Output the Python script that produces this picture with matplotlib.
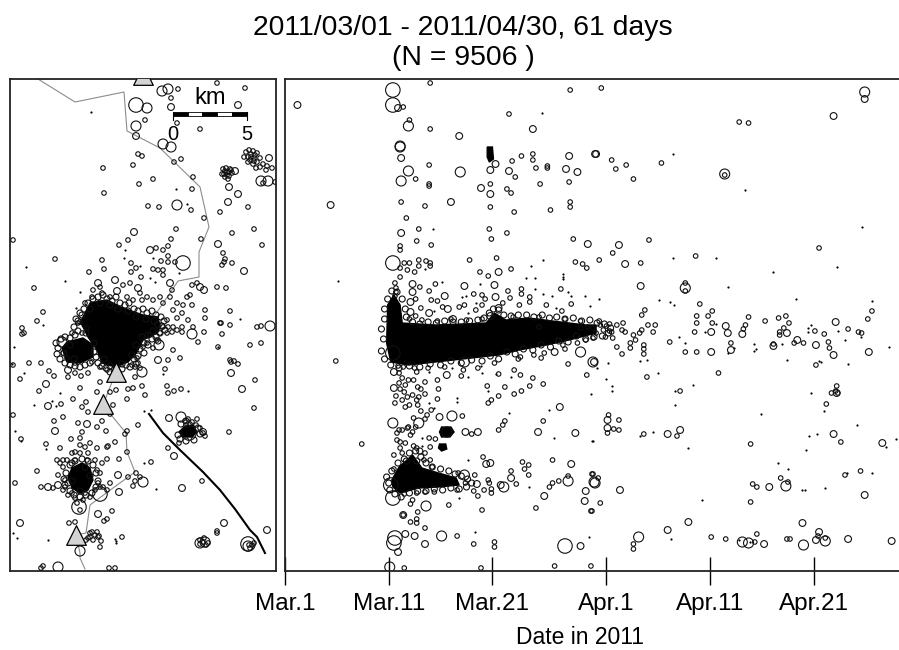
import matplotlib
matplotlib.use('Agg')
import matplotlib.pyplot as plt

plt.rcParams['font.family'] = ['Liberation Sans', 'DejaVu Sans']

# Positions. East/north are in map units, 14.8 units = 1 km.
# Right panel x is days after Mar.1, y is the same north value as the map.
# Where the events saturate to solid black, the core is a filled outline
# instead of thousands of hand-read circles.
UNITS_PER_KM = 14.8

station_line = [(28, 492), (65, 469), (114, 479), (117, 440), (150, 423), (190, 384), (199, 344), (189, 319),
                (189, 294), (168, 290), (160, 278), (106, 199), (93, 166), (116, 138), (117, 119), (125, 99),
                (103, 83), (80, 66), (76, 38), (66, 36), (70, 18), (70, 13), (75, 2)]
stations = [(133, 496), (106, 199), (93, 167), (66, 36)]
fault_line = [(139, 157), (153, 138), (170, 121), (193, 99), (210, 81), (225, 62), (240, 41), (247, 34), (255, 18)]

map_cores = [
    [(70, 248), (80, 268), (97, 271), (113, 263), (133, 256), (148, 254), (150, 244), (147, 238), (133, 231),
     (127, 219), (118, 209), (105, 204), (92, 208), (87, 221), (78, 234), (72, 246)],
    [(52, 223), (57, 229), (73, 233), (83, 226), (83, 214), (70, 208), (57, 209)],
    [(58, 94), (62, 103), (72, 108), (80, 103), (83, 91), (78, 81), (70, 78), (62, 83)],
    [(169, 139), (175, 145), (183, 146), (187, 139), (182, 134), (173, 134)],
]
time_cores = [
    [(9.9, 266), (10.5, 276), (11.1, 266), (11.3, 248), (14.5, 246), (19.4, 248), (20.2, 258), (21.3, 251),
     (23.5, 253), (25.8, 250), (29, 246), (30, 246), (30, 238), (27.4, 231), (25.2, 226), (22.6, 221),
     (20.6, 216), (18, 213), (14.5, 209), (11.9, 206), (10.2, 209), (9.8, 228)],
    [(10.3, 91), (11, 104), (12.3, 116), (13.2, 103), (14.8, 98), (16.5, 93), (16.8, 86), (14.8, 84),
     (12.9, 83), (11.1, 78), (10.4, 84)],
    [(15.1, 144), (16, 144), (16.3, 139), (15.9, 134), (15.1, 134), (14.9, 139)],
    [(14.9, 127), (15.5, 127), (15.6, 122), (15.1, 120), (14.8, 123)],
    [(19.5, 424), (20, 424), (20.1, 412), (19.7, 409), (19.5, 414)],
]

map_tiny = [(81, 459), (166, 382), (16, 304), (55, 290), (177, 367), (70, 279), (66, 263), (230, 252), (115, 321),
            (143, 313), (114, 313), (130, 305), (169, 298), (140, 293), (145, 289), (33, 246), (2, 207), (14, 198),
            (4, 224), (50, 178), (42, 170), (46, 165), (24, 166), (5, 140), (11, 130), (36, 122), (134, 160),
            (141, 161), (153, 197), (178, 180), (208, 224), (106, 30), (106, 28), (3, 38), (7, 33), (38, 31),
            (105, 32), (134, 108), (146, 82)]
map_small = [(207, 488), (235, 483), (168, 482), (161, 473), (135, 451), (190, 442), (167, 448), (128, 417), (132, 415),
             (171, 412), (164, 409), (123, 406), (93, 403), (143, 392), (129, 387), (183, 394), (182, 382), (94, 378),
             (138, 365), (149, 364), (181, 361), (194, 353), (210, 359), (238, 364), (244, 342), (222, 338), (252, 326),
             (191, 332), (166, 342), (3, 331), (118, 331), (161, 332), (158, 325), (109, 326), (146, 323), (153, 321),
             (158, 315), (213, 318), (222, 308), (45, 312), (92, 311), (121, 308), (126, 303), (121, 299), (94, 302),
             (79, 299), (151, 310), (158, 309), (165, 309), (143, 302), (148, 301), (153, 301), (153, 296), (131, 294),
             (24, 283), (216, 283), (207, 284), (33, 259), (27, 250), (195, 261), (195, 253), (220, 260), (220, 246),
             (210, 248), (247, 244), (251, 245), (214, 309), (212, 306), (215, 312),
             (236, 419), (239, 421), (243, 420), (247, 418), (250, 413), (247, 409), (243, 407), (238, 409), (234, 414),
             (241, 414), (244, 413), (238, 414), (241, 417), (244, 410), (240, 411), (253, 407), (257, 405), (250, 404),
             (246, 403), (256, 401), (245, 416), (213, 402), (216, 403), (220, 402), (222, 398), (219, 395), (215, 394),
             (212, 397), (217, 399), (215, 400), (219, 399), (217, 396), (214, 397), (221, 401), (218, 392),
             (262, 403), (253, 388), (265, 389), (12, 243), (14, 238), (12, 237), (19, 208), (31, 208), (3, 206), (39, 200),
             (10, 192), (44, 195), (29, 180), (51, 167), (3, 156), (44, 150), (53, 154), (11, 132), (36, 127), (27, 100),
             (5, 88), (31, 84), (48, 96), (65, 198), (71, 195), (78, 198), (58, 194), (70, 183), (63, 172), (76, 169),
             (72, 164), (78, 159), (68, 148), (87, 144), (96, 140), (92, 150), (100, 157), (103, 166), (117, 172), (132, 185),
             (118, 182), (123, 183), (106, 181), (100, 179), (87, 179), (90, 189), (125, 194), (130, 203), (125, 204),
             (135, 176), (157, 185), (158, 178), (164, 180), (171, 182), (155, 202), (158, 211), (170, 213), (163, 221),
             (188, 229), (194, 239), (211, 248), (212, 237), (208, 224), (240, 226), (251, 228), (245, 191), (244, 163),
             (219, 139), (221, 209), (228, 207), (220, 211), (224, 210), (187, 152), (195, 135), (169, 128), (158, 123),
             (192, 90), (141, 109), (128, 146), (117, 140), (115, 137), (117, 119), (109, 112), (105, 129), (98, 125),
             (97, 112), (118, 94), (126, 98), (130, 94), (125, 90), (123, 85), (102, 60), (97, 52), (94, 50), (65, 49),
             (59, 48), (91, 30), (90, 24), (112, 34), (99, 3), (105, 3), (33, 5), (31, 3), (207, 38), (207, 40),
             (47, 111), (53, 111), (50, 123), (50, 108), (61, 132), (70, 133), (72, 139), (80, 128), (87, 123), (97, 124),
             (43, 83), (53, 81), (58, 76), (65, 73), (73, 71), (80, 74), (85, 81), (88, 88), (93, 84), (97, 81), (100, 88),
             (90, 98), (53, 104), (57, 111), (62, 118), (70, 118), (78, 118), (85, 111), (92, 108), (65, 111), (77, 111),
             (70, 126), (65, 119), (75, 124), (87, 101), (55, 91), (55, 84), (90, 84), (75, 78), (62, 78), (67, 68), (70, 61),
             (80, 38), (85, 36), (88, 34), (78, 33), (83, 31), (87, 39), (80, 34), (76, 31), (82, 39), (89, 35),
             (68, 248), (77, 243), (72, 238), (150, 238), (140, 236), (133, 224), (137, 228), (127, 213), (128, 208),
             (122, 206), (162, 239), (167, 241), (172, 239), (157, 238), (147, 231), (143, 223), (163, 244), (153, 244),
             (62, 238), (53, 218), (57, 213), (65, 208), (82, 209), (90, 204), (97, 201),
             (90, 284), (83, 281), (92, 278), (113, 286), (120, 288), (130, 278), (117, 274), (123, 271), (132, 271),
             (137, 274), (143, 271), (150, 274), (162, 281), (160, 274), (153, 268), (167, 268), (177, 274), (180, 276),
             (182, 266), (173, 266), (172, 258), (187, 288), (182, 286), (163, 261), (157, 251), (167, 253), (178, 251),
             (183, 244), (172, 244), (158, 244), (70, 249), (82, 274), (75, 268), (100, 274),
             (190, 31), (193, 29), (196, 26), (190, 27), (194, 33), (239, 26), (242, 26), (244, 28), (240, 23), (175, 150),
             (178, 152), (182, 149), (180, 147), (176, 146), (186, 146), (190, 143), (193, 138), (198, 28)]
map_edge = [(66, 252), (70, 258), (74, 262), (78, 268), (83, 272), (88, 274), (93, 276), (97, 272), (102, 270), (106, 274),
            (110, 268), (115, 266), (119, 268), (124, 262), (128, 260), (133, 262), (137, 258), (142, 260), (146, 256),
            (151, 254), (154, 250), (152, 245), (155, 241), (150, 238), (146, 234), (148, 230), (142, 232), (138, 226),
            (134, 228), (130, 222), (134, 218), (128, 215), (124, 212), (126, 207), (120, 204), (116, 206), (112, 202),
            (108, 199), (104, 201), (100, 199), (96, 203), (92, 205), (88, 208), (86, 214), (84, 219), (80, 208), (75, 206),
            (70, 204), (65, 205), (60, 206), (55, 208), (50, 212), (47, 217), (48, 223), (46, 228), (51, 232), (55, 234),
            (60, 233), (65, 236), (68, 240), (64, 244), (68, 250), (72, 256), (80, 262), (90, 268), (100, 266), (108, 262),
            (118, 260), (126, 254), (136, 252), (144, 250), (148, 246), (143, 240), (138, 236), (132, 234), (126, 226),
            (122, 216), (112, 207), (100, 205), (94, 212), (84, 228), (76, 238), (60, 226), (64, 212), (54, 218),
            (54, 92), (56, 98), (60, 106), (65, 110), (72, 112), (78, 110), (83, 106), (86, 98), (88, 90), (86, 84), (82, 78),
            (76, 76), (70, 74), (64, 76), (60, 80), (55, 86), (58, 88), (62, 108), (75, 104), (80, 95), (70, 80), (62, 90),
            (168, 136), (171, 147), (176, 150), (188, 143), (190, 137), (184, 131), (176, 130), (170, 132)]
map_med = [(228, 466), (161, 464), (219, 384), (228, 377), (218, 369), (208, 327), (126, 435), (234, 300), (140, 321),
           (124, 339), (259, 413), (225, 400), (109, 79), (88, 57), (172, 83), (159, 153), (164, 115), (193, 139),
           (38, 84), (48, 86), (232, 182), (148, 211), (58, 201), (38, 165), (45, 140), (77, 147), (221, 198),
           (257, 41), (214, 48), (10, 48), (36, 187), (108, 96), (88, 288), (105, 291), (107, 280), (128, 283),
           (160, 288), (190, 284), (194, 281)]
map_large = [(152, 480), (158, 482), (137, 463), (126, 445), (153, 427), (161, 424), (167, 366), (251, 390), (258, 390),
             (260, 245), (182, 237), (70, 20), (48, 4), (133, 89), (149, 226), (52, 229), (132, 199), (190, 28),
             (195, 29), (171, 154), (238, 25)]
map_huge = [(126, 466), (173, 308), (90, 77), (69, 64), (179, 138), (238, 27)]

time_tiny = [(5.1, 290), (24.8, 458), (14.3, 342), (24.9, 311), (23.7, 305), (26.8, 297), (26.8, 294), (26.8, 292),
             (23.2, 293), (24.1, 293), (15.1, 289), (13.5, 302), (24.1, 282), (18.8, 287), (24.9, 277), (25.7, 275),
             (27.3, 279), (27.6, 275), (28.9, 275), (29.4, 265), (26.1, 263), (17.6, 258), (17.1, 274), (17.5, 275),
             (18.4, 268), (14.4, 260), (37.4, 417), (44.4, 381), (55.6, 344), (37.4, 313), (41.6, 313), (47.1, 299),
             (53.2, 304), (42.7, 284), (30.3, 272), (36.1, 271), (37.5, 266), (37.1, 269), (49.3, 272), (56.6, 270),
             (41.6, 247), (40.5, 239), (45.2, 227), (45.2, 220), (45.4, 222), (42.7, 218), (43.3, 223), (48.4, 211),
             (47.9, 227), (50.4, 243), (50.7, 246), (50.4, 239), (53.3, 240), (54, 231), (55.5, 234), (58.2, 224),
             (54.3, 207), (51.5, 210), (51.7, 209), (50.7, 178), (52, 160), (45.9, 157), (55.2, 146), (51.3, 137),
             (50.5, 135), (58.9, 132), (58, 124), (50.2, 121), (38.9, 123), (35.5, 139), (34.2, 135), (47.5, 108),
             (48.5, 102), (52.1, 83), (56.6, 98), (54.2, 98), (49.9, 81), (50.1, 81), (40.2, 71), (37.2, 32),
             (43.8, 31), (44.8, 29), (29.6, 130), (31.5, 180), (31.5, 185), (31, 192), (36, 198), (39.3, 186),
             (37.6, 166), (37.6, 180), (34.2, 210), (34.9, 211), (31.1, 208), (30.1, 203), (38.6, 228), (38, 234),
             (13.9, 199), (16.1, 203), (19, 198), (18.9, 205), (17.6, 194), (21.8, 194), (16.6, 173), (16.6, 169),
             (13.9, 168), (14.4, 163), (21.6, 158), (25.5, 161), (25.9, 133), (29.7, 130), (17.6, 111), (29.5, 177),
             (16.8, 73), (18.3, 39), (29.3, 34), (23.5, 84), (13.2, 125), (13.2, 133), (20.3, 197), (19.6, 180)]
time_small = [(14, 488), (27.5, 481), (21.6, 457), (14, 442), (11.4, 464), (12, 451), (13.9, 406), (12.6, 392), (13.9, 387),
              (13.9, 385), (22.8, 415), (23.9, 417), (23.9, 411), (24.2, 403), (25.3, 405), (25.3, 403), (21.9, 410),
              (22.2, 394), (19.8, 387), (24.6, 387), (27.4, 389), (21.4, 382), (21.8, 378), (11.2, 369), (13.5, 365),
              (27.5, 369), (27.5, 364), (19.8, 364), (22.1, 359), (25.6, 361), (11.7, 353), (12.9, 342), (12.7, 330),
              (14.1, 326), (19.7, 342), (21.4, 338), (19.9, 332), (27.8, 332), (11.1, 321), (11.1, 325), (17.8, 311),
              (20.4, 313), (18.8, 299), (19.6, 295), (21.8, 302), (28, 309), (28.7, 307), (29.1, 303), (12.9, 311),
              (12.9, 305), (13.6, 310), (14, 308), (14, 305), (11.5, 308), (12, 308), (11.1, 303), (11.8, 301),
              (12.5, 299), (11.1, 294), (14.5, 287), (13.9, 280), (13, 284), (26.6, 282), (21.5, 280), (22.8, 282),
              (22.8, 277), (14.1, 271), (14.7, 270), (15.2, 264), (16.8, 264), (17.3, 266), (18.4, 261), (26.7, 260),
              (27.6, 267), (21, 268), (21.7, 273), (23.6, 274), (23.6, 269), (22.6, 266), (25.2, 266),
              (10.6, 288), (10.7, 283), (10.7, 279), (10.6, 275), (12.6, 272), (13.1, 263), (19, 276), (19, 266),
              (19.3, 272), (18.2, 277), (30.5, 483), (43.8, 449), (44.7, 448), (31.5, 411), (31.9, 402), (32.9, 406),
              (33.6, 392), (36.3, 408), (42.4, 396), (35.1, 331), (31.6, 318), (30.3, 311), (34.3, 308), (39.6, 315),
              (51.5, 323), (38.6, 288), (38.6, 280), (40, 267), (34.7, 261), (34.4, 256), (41.2, 260), (40.8, 255),
              (39.7, 255), (44.7, 254), (47.6, 253), (48.3, 255), (46.3, 250), (56.6, 260), (56.2, 252),
              (41.2, 248), (39.7, 248), (44.4, 246), (44.2, 242), (39.5, 239), (48.6, 248), (48.1, 243), (47.7, 239),
              (47.7, 236), (51.1, 240), (52, 237), (54.3, 242), (55.3, 239), (55.6, 238), (52.4, 229), (52.5, 223),
              (49.1, 228), (50, 228), (47.1, 227), (39.7, 219), (38.6, 219), (43, 228), (51.2, 206), (41.8, 198),
              (37.1, 229), (34.6, 226), (34.6, 222), (34.6, 217), (34.9, 194), (53.2, 185), (53.1, 180), (52.7, 178),
              (53.3, 178), (52.2, 167), (38.1, 180), (31.2, 156), (31.1, 138), (32.2, 151), (32.2, 141), (31.7, 142),
              (34.6, 137), (37.8, 135), (44.9, 127), (53.6, 129), (55.5, 100), (54, 96), (47.8, 93), (45.1, 87),
              (45.5, 84), (48.5, 89), (44.9, 69), (30.4, 68), (29.5, 60), (29.6, 97), (30.2, 93), (33.6, 27), (33.6, 22),
              (41.1, 34), (42.5, 32), (45.3, 29), (45.5, 37), (48.4, 32), (48.7, 32), (51.4, 35), (52.1, 33),
              (29.7, 233), (30, 238), (30.9, 234), (31.6, 233), (32, 224), (32.5, 217), (33.3, 223), (33.3, 228),
              (33.8, 231), (34.2, 238), (35, 246), (35.7, 246), (35.5, 239), (32.5, 241), (32.8, 239), (31.5, 239),
              (30.4, 246), (29.7, 243), (30.7, 241), (31.3, 247), (32, 246), (32.6, 248), (33.6, 236), (34.4, 241),
              (4.9, 210), (7.4, 127), (11.4, 56), (16.6, 35), (11.5, 3), (18.9, 3), (26, 5), (29.5, 5), (20.2, 29),
              (20.2, 24), (18.2, 27), (13.5, 43), (12.7, 52), (12.7, 48), (12.1, 49), (12.8, 59), (15.8, 66), (19, 61),
              (24.2, 63), (29.6, 60), (12.3, 71), (12.1, 67), (20.6, 197), (17, 195), (14.7, 191), (14.8, 182),
              (14.7, 172), (19.5, 185), (21.2, 184), (23.6, 185), (22.1, 177), (22.8, 180), (20.6, 175), (19.9, 171),
              (19.6, 168), (22.7, 196), (22.1, 201), (23.9, 193), (24.9, 187), (29.1, 196), (17.1, 155), (21.2, 150),
              (21, 146), (24.9, 150), (20.6, 141), (18, 137), (14.5, 132), (13.9, 133), (19.1, 114), (22.9, 109),
              (23.5, 106), (23.1, 102), (23.5, 96), (25.8, 111), (21.8, 100), (22.3, 87), (26.4, 90), (25.8, 88),
              (25.5, 84), (27.3, 95), (29.7, 97), (18.3, 96), (19.6, 91), (19.9, 82), (19.9, 78), (19.2, 81), (18.6, 75),
              (18.2, 80), (14.4, 79), (16.6, 81), (13.5, 79), (12.7, 78), (11.5, 77), (19.7, 88), (17.4, 88), (16.7, 98),
              (11, 198), (11.9, 191), (12.7, 199), (11.1, 182), (10.7, 175), (10.6, 168), (11.3, 171), (11.6, 164),
              (12, 166), (13.1, 182), (13.5, 177), (12.7, 171), (13.1, 160), (12.3, 176), (11.6, 186), (11, 141),
              (11.1, 129), (11.8, 143), (12.4, 153), (12.3, 139), (10.5, 116), (11.1, 123), (11.6, 128), (12.4, 125),
              (13.7, 156), (13.5, 152), (14.1, 161), (14, 124), (13.5, 118), (14, 111), (14.2, 104), (12.7, 123),
              (11.3, 118), (13.4, 111), (10.5, 102), (10.8, 138), (10.8, 131), (11.3, 141), (11.9, 144), (12.1, 136),
              (12.6, 144), (12.8, 184), (12.9, 174), (11.3, 193), (11, 188), (12.4, 191), (13.5, 189), (11.5, 179),
              (11.8, 174), (12.8, 166), (27.3, 207), (24.7, 213), (24, 216), (22.7, 214), (28.5, 243), (26.3, 231),
              (26.8, 226), (29.2, 244), (24.5, 244), (10.9, 205), (11.4, 204), (12.5, 203), (13.8, 203), (15.4, 204),
              (17.2, 201), (18.6, 203), (20.2, 208), (22.5, 212), (25, 218), (27, 222), (28.2, 228), (29, 231),
              (12, 252), (12.6, 255), (13.2, 251), (14.7, 250), (16, 252), (17.5, 251), (19, 252), (22, 254), (24.5, 254),
              (27, 252), (28.5, 250), (30.3, 250), (31, 245), (31.3, 240)]
time_edge = [(9.6, 262), (9.9, 272), (10.3, 280), (10.8, 279), (11.3, 272), (11.6, 262), (11.7, 254), (12.3, 249), (13, 247),
             (13.8, 249), (14.6, 248), (15.4, 250), (16.2, 249), (17, 249), (17.8, 250), (18.6, 251), (19.2, 253), (19.7, 258),
             (20.1, 262), (20.6, 261), (21.1, 256), (21.8, 255), (22.5, 256), (23.3, 256), (24, 254), (24.8, 256), (25.5, 253),
             (26.2, 254), (27, 252), (27.8, 253), (28.6, 250), (29.4, 251), (30.1, 248), (30.8, 247), (31.4, 243), (31.2, 238),
             (30.6, 235), (29.8, 234), (29, 232), (28.1, 235), (27.3, 229), (26.4, 230), (25.6, 224), (24.7, 226), (23.9, 221),
             (23, 222), (22.2, 217), (21.4, 219), (20.6, 212), (19.8, 215), (19, 210), (18, 211), (17, 208), (16, 210), (15, 206),
             (14, 207), (13, 204), (12, 205), (11, 203), (10.2, 206), (9.6, 212), (9.3, 220), (9.5, 232), (9.3, 242), (9.6, 252),
             (10, 88), (9.8, 94), (10.3, 100), (10.9, 108), (11.5, 112), (12, 118), (12.6, 120), (13.1, 114), (13.6, 108),
             (14.2, 104), (15, 102), (15.8, 100), (16.4, 97), (17, 95), (17.6, 92), (18, 88), (17.5, 84), (16.8, 82), (16, 83),
             (15.2, 81), (14.4, 82), (13.6, 80), (12.8, 80), (12, 78), (11.2, 74), (10.6, 77), (10.1, 81), (11.7, 110),
             (12.7, 110), (13, 120)]
time_med = [(1.2, 466), (4.4, 366), (11.2, 413), (23.9, 442), (28.2, 399), (16.8, 435), (18.9, 383), (19.8, 377),
            (16, 369), (11.2, 338), (29.2, 327), (20.6, 299), (15.4, 275), (29.9, 417), (27.4, 415), (20.3, 407),
            (10.9, 463), (21.6, 400), (19.8, 401), (27.1, 402), (16.2, 252), (15.7, 262), (17.3, 285), (20.2, 286),
            (12.3, 287), (12.3, 279), (12.1, 269), (13.9, 258), (20.3, 274), (55.9, 472), (52.9, 455), (30, 417),
            (32.2, 326), (32.8, 307), (34.3, 285), (42.5, 245), (42.7, 238), (44.1, 237), (41.1, 239), (48.4, 238),
            (53.1, 249), (52.9, 216), (51.2, 226), (49.4, 231), (47.1, 225), (41.1, 219), (43, 221), (56.3, 219),
            (31.1, 151), (31.1, 143), (53.2, 178), (36.9, 137), (38.1, 141), (52.9, 137), (57.6, 128), (46.7, 84),
            (55.9, 76), (32.3, 81), (38.9, 49), (49.9, 48), (36.9, 41), (46.2, 27), (51.5, 39), (51.2, 31), (54.3, 32),
            (58.5, 30), (10.5, 199), (10.5, 183), (15.6, 196), (14.9, 154), (27.6, 107), (28, 138), (26.5, 164),
            (11.4, 56), (13.5, 27), (10.9, 19), (28.5, 25), (12.5, 35), (11.6, 37), (18.6, 139), (17.4, 139),
            (24.4, 139), (19.8, 108), (19.4, 107), (21.8, 93), (25, 75), (28.9, 70), (29, 80), (18.5, 87), (20.8, 86),
            (26, 219), (29.8, 209), (12.1, 259), (20.6, 263), (19.8, 255)]
time_large = [(11.9, 445), (11.2, 390), (11.1, 425), (11.1, 424), (11.9, 400), (16.9, 399), (38.6, 283), (42.4, 397),
              (55.9, 479), (29.7, 209), (29.9, 88), (44.1, 29), (44.7, 28), (50, 26), (52.1, 30), (34.1, 34),
              (48.3, 85), (17.3, 209), (16.1, 155), (10.4, 148), (12.9, 148), (17.3, 96), (21.1, 84), (27.3, 90),
              (29.8, 89), (15.1, 35), (13.6, 65), (10.1, 4), (28.5, 219), (15.6, 139)]
time_huge = [(10.4, 481), (10.4, 466), (10.4, 308), (10.2, 86), (10.4, 73), (10.5, 28), (10.6, 33), (27, 25), (10.4, 218)]

size_classes = [('small', 4.5), ('edge', 6), ('med', 6.8), ('large', 10), ('huge', 14.5)]
map_events = {'small': map_small, 'edge': map_edge, 'med': map_med, 'large': map_large, 'huge': map_huge}
time_events = {'small': time_small, 'edge': time_edge, 'med': time_med, 'large': time_large, 'huge': time_huge}

tick_days = [0, 10, 20, 31, 41, 51]
tick_labels = ['Mar.1', 'Mar.11', 'Mar.21', 'Apr.1', 'Apr.11', 'Apr.21']

W, H = 899, 650
fig = plt.figure(figsize=(W / 100, H / 100), dpi=100)
ax1 = fig.add_axes([10 / W, 1 - 571 / H, 266 / W, 492 / H])
ax2 = fig.add_axes([285 / W, 1 - 571 / H, 620 / W, 492 / H])


def draw_events(ax, events, tiny, cores):
    for core in cores:
        ax.fill(*zip(*core), color='black', lw=1, zorder=2)
    ax.scatter(*zip(*tiny), s=2.5, color='black', linewidths=0, zorder=3)
    for name, diameter in size_classes:
        d_pt = diameter * 0.72
        ax.scatter(*zip(*events[name]), s=d_pt ** 2, facecolors='none', edgecolors='#111111', linewidths=0.8, zorder=3)


draw_events(ax1, map_events, map_tiny, map_cores)
ax1.plot(*zip(*station_line), color='#8c8c8c', lw=0.8, zorder=1)
ax1.plot(*zip(*fault_line), color='black', lw=1.5, zorder=2)
ax1.scatter(*zip(*stations), marker='^', s=200, facecolor='#d4d4d4', edgecolor='black', linewidths=0.9, zorder=4)
ax1.set_xlim(0, 266)
ax1.set_ylim(0, 492)
ax1.set_xticks([])
ax1.set_yticks([])

# scale bar
bar_x0 = 162.7
km = UNITS_PER_KM
for i in range(5):
    ax1.fill_between([bar_x0 + i * km, bar_x0 + (i + 1) * km], 455, 459, facecolor='black' if i % 2 == 0 else 'white',
                     edgecolor='black', lw=0.6, zorder=5)
ax1.plot([bar_x0, bar_x0], [451, 459], color='black', lw=0.8, zorder=5)
ax1.plot([bar_x0 + 5 * km, bar_x0 + 5 * km], [451, 459], color='black', lw=0.8, zorder=5)
ax1.text(bar_x0 + 2.5 * km, 473, 'km', fontsize=17, ha='center', va='center', zorder=6)
ax1.text(bar_x0, 437, '0', fontsize=14.5, ha='center', va='center', zorder=6)
ax1.text(bar_x0 + 5 * km, 437, '5', fontsize=14.5, ha='center', va='center', zorder=6)

draw_events(ax2, time_events, time_tiny, time_cores)
ax2.set_xlim(0, 620 / 10.37)
ax2.set_ylim(0, 492)
ax2.set_yticks([])
ax2.set_xticks(tick_days)
ax2.set_xticklabels(tick_labels, fontsize=17.5)
ax2.tick_params(axis='x', direction='inout', length=20, width=1, pad=6)
ax2.spines['bottom'].set_zorder(5)

for ax in (ax1, ax2):
    for s in ax.spines.values():
        s.set_linewidth(1.3)
        s.set_color('#222222')

fig.text(463 / W, 1 - 28 / H, '2011/03/01 - 2011/04/30, 61 days', fontsize=20.4, ha='center', va='center')
fig.text(463 / W, 1 - 58 / H, '(N = 9506 )', fontsize=20.4, ha='center', va='center')
fig.text(580 / W, 1 - 637 / H, 'Date in 2011', fontsize=16.5, ha='center', va='center')

fig.savefig('out.png', dpi=100)
